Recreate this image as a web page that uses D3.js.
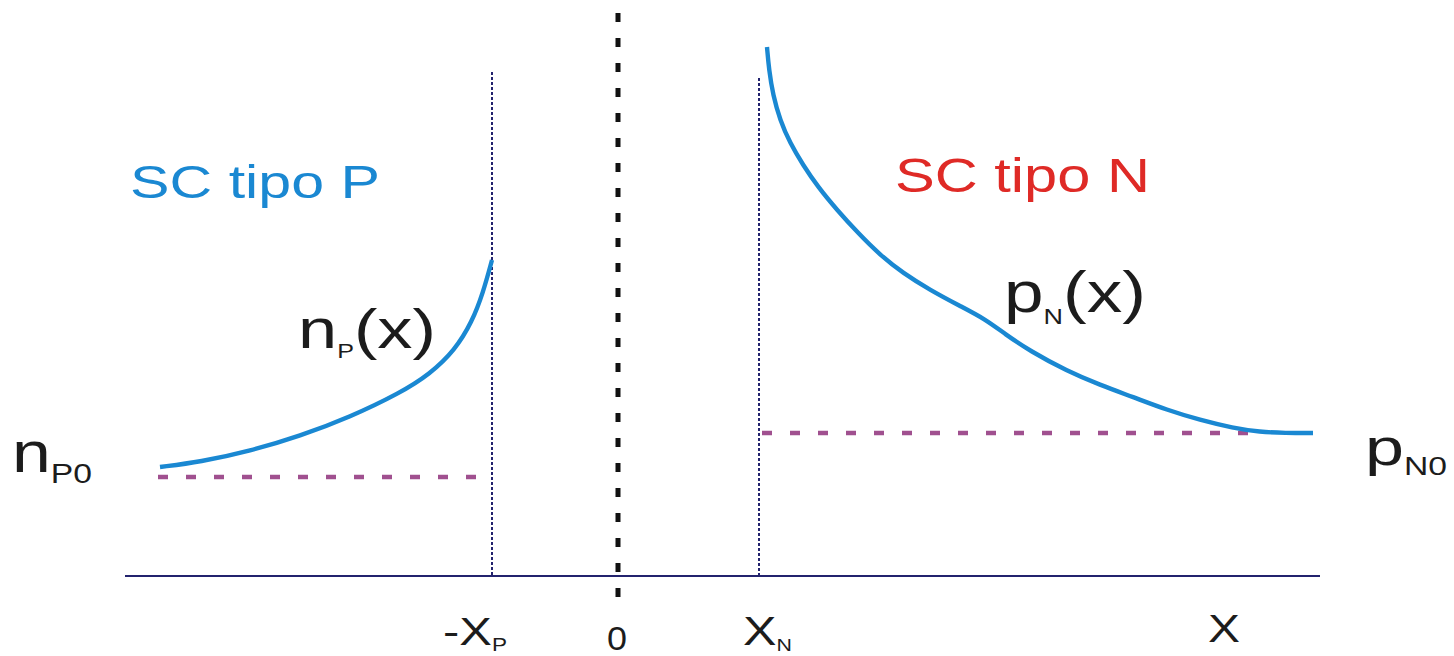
<!DOCTYPE html>
<html>
<head>
<meta charset="utf-8">
<script src="https://cdn.jsdelivr.net/npm/d3@7"></script>
<style>
  html, body { margin: 0; padding: 0; background: #ffffff; }
  svg { display: block; }
</style>
</head>
<body>
<svg id="chart" width="1454" height="656"></svg>
<script>
// ---------------- data (abstract units) ----------------
const junctionX = 0;
const xPEdge = -1.26;       // -X_P
const xNEdge = 1.41;        // X_N
const nP0 = 0.99;           // equilibrium electrons in P side
const pN0 = 1.43;           // equilibrium holes in N side

// n_P(x) curve on the P side
const nPx = [-4.58, -4.18, -3.68, -3.18, -2.68, -2.18, -1.88, -1.63, -1.46, -1.35, -1.26];
const nPy = [1.09, 1.14, 1.25, 1.40, 1.59, 1.83, 2.02, 2.26, 2.54, 2.83, 3.16];

// p_N(x) curve on the N side
const pNx = [1.49, 1.51, 1.55, 1.62, 1.72, 1.85, 2.00, 2.19, 2.40, 2.62, 2.85, 3.12, 3.42, 3.67, 3.87, 4.12, 4.49, 4.82, 5.15, 5.49, 5.82, 6.15, 6.42, 6.67, 6.95];
const pNy = [5.29, 5.06, 4.81, 4.56, 4.33, 4.11, 3.89, 3.66, 3.43, 3.21, 3.03, 2.86, 2.70, 2.57, 2.42, 2.25, 2.05, 1.91, 1.79, 1.66, 1.56, 1.48, 1.44, 1.43, 1.43];

// extents of the reference (dashed) levels and guide lines
const nP0Range = [-4.60, -1.27];
const pN0Range = [1.44, 6.47];
const axisRange = [-4.93, 7.02];
const junctionRange = [-0.22, 5.63];
const xPGuideTop = 5.04;
const xNGuideTop = 4.98;

// tick labels on the x axis
const tickLabels = [
  { main: "-X", sub: "P" },
  { main: "0",  sub: "" },
  { main: "X",  sub: "N" },
  { main: "X",  sub: "" }
];
const tickValues = [xPEdge, junctionX, xNEdge, 6.06];

// region titles and curve names
const regionTitles = ["SC tipo P", "SC tipo N"];
const curveNames = [{ main: "n", sub: "P", tail: "(x)" }, { main: "p", sub: "N", tail: "(x)" }];
const levelNames = [{ main: "n", sub: "P0" }, { main: "p", sub: "N0" }];

// ---------------- layout / styles ----------------
const FONT = "'Liberation Sans', Arial, Helvetica, sans-serif";
const BLUE = "#1a88d2";
const RED = "#df2a26";
const INK = "#1c1c1c";
const NAVY = "#23236e";
const PINK = "#a0508f";

const x = d3.scaleLinear().domain([-4.93, 7.02]).range([125, 1320]);
const y = d3.scaleLinear().domain([0, 5.5]).range([576, 26]);

const svg = d3.select("#chart");

// axis line
svg.append("line")
  .attr("x1", x(axisRange[0])).attr("x2", x(axisRange[1]))
  .attr("y1", y(0)).attr("y2", y(0))
  .attr("stroke", NAVY).attr("stroke-width", 2);

// junction (black dashed)
svg.append("line")
  .attr("x1", x(junctionX)).attr("x2", x(junctionX))
  .attr("y1", y(junctionRange[1])).attr("y2", y(junctionRange[0]))
  .attr("stroke", "#111").attr("stroke-width", 5)
  .attr("stroke-dasharray", "9,16");

// depletion edges (navy dotted)
[[xPEdge, xPGuideTop], [xNEdge, xNGuideTop]].forEach(([xv, top]) => {
  svg.append("line")
    .attr("x1", x(xv)).attr("x2", x(xv))
    .attr("y1", y(top)).attr("y2", y(0))
    .attr("stroke", NAVY).attr("stroke-width", 2)
    .attr("stroke-dasharray", "3,2");
});

// equilibrium levels (pink dashed)
[[nP0Range, nP0], [pN0Range, pN0]].forEach(([rng, lvl]) => {
  svg.append("line")
    .attr("x1", x(rng[0])).attr("x2", x(rng[1]))
    .attr("y1", y(lvl)).attr("y2", y(lvl))
    .attr("stroke", PINK).attr("stroke-width", 4.5)
    .attr("stroke-dasharray", "10,18");
});

// curves
const line = d3.line().x(d => x(d[0])).y(d => y(d[1])).curve(d3.curveBasis);
[[nPx, nPy], [pNx, pNy]].forEach(([xs, ys]) => {
  svg.append("path")
    .datum(xs.map((v, i) => [v, ys[i]]))
    .attr("d", line)
    .attr("fill", "none")
    .attr("stroke", BLUE).attr("stroke-width", 4.4)
    .attr("stroke-linecap", "butt");
});

// ---------------- text helpers ----------------
function label(parts, opt) {
  const t = svg.append("text")
    .attr("x", 0).attr("y", 0)
    .attr("font-family", FONT)
    .attr("font-size", opt.size)
    .attr("fill", opt.color);
  let shift = 0;
  parts.forEach(p => {
    const ts = t.append("tspan").text(p.text);
    if (p.size) ts.attr("font-size", p.size);
    const target = p.dy || 0;
    if (target !== shift) { ts.attr("dy", target - shift); shift = target; }
  });
  const bb = t.node().getBBox();
  const sx = opt.width / bb.width;
  t.attr("transform", `translate(${opt.left - bb.x * sx},${opt.baseline}) scale(${sx},1)`);
  return t;
}

// region titles
label([{ text: regionTitles[0] }], { size: 46, color: BLUE, left: 130, width: 250, baseline: 198 });
label([{ text: regionTitles[1] }], { size: 48, color: RED, left: 895, width: 255, baseline: 192 });

// curve names
label([{ text: curveNames[0].main }, { text: curveNames[0].sub, size: 20, dy: 10 }, { text: curveNames[0].tail, dy: 0 }],
  { size: 56, color: INK, left: 298, width: 138, baseline: 348 });
label([{ text: curveNames[1].main }, { text: curveNames[1].sub, size: 22, dy: 12 }, { text: curveNames[1].tail, dy: 0 }],
  { size: 58, color: INK, left: 1004, width: 142, baseline: 312 });

// level names
label([{ text: levelNames[0].main }, { text: levelNames[0].sub, size: 28, dy: 11 }],
  { size: 58, color: INK, left: 12, width: 80, baseline: 472 });
label([{ text: levelNames[1].main }, { text: levelNames[1].sub, size: 25, dy: 10 }],
  { size: 52, color: INK, left: 1365, width: 82, baseline: 465 });

// tick labels
const tickLayout = [
  { size: 39, sub: 18, dy: 6, left: 443, width: 64, baseline: 645 },
  { size: 33, sub: 0, dy: 0, left: 607, width: 20, baseline: 650 },
  { size: 40, sub: 17, dy: 6, left: 743, width: 49, baseline: 645 },
  { size: 38, sub: 0, dy: 0, left: 1208, width: 32, baseline: 642 }
];
tickLabels.forEach((tk, i) => {
  const L = tickLayout[i];
  const parts = [{ text: tk.main }];
  if (tk.sub) parts.push({ text: tk.sub, size: L.sub, dy: L.dy });
  label(parts, { size: L.size, color: INK, left: L.left, width: L.width, baseline: L.baseline })
    .attr("data-value", tickValues[i]);
});
</script>
</body>
</html>
